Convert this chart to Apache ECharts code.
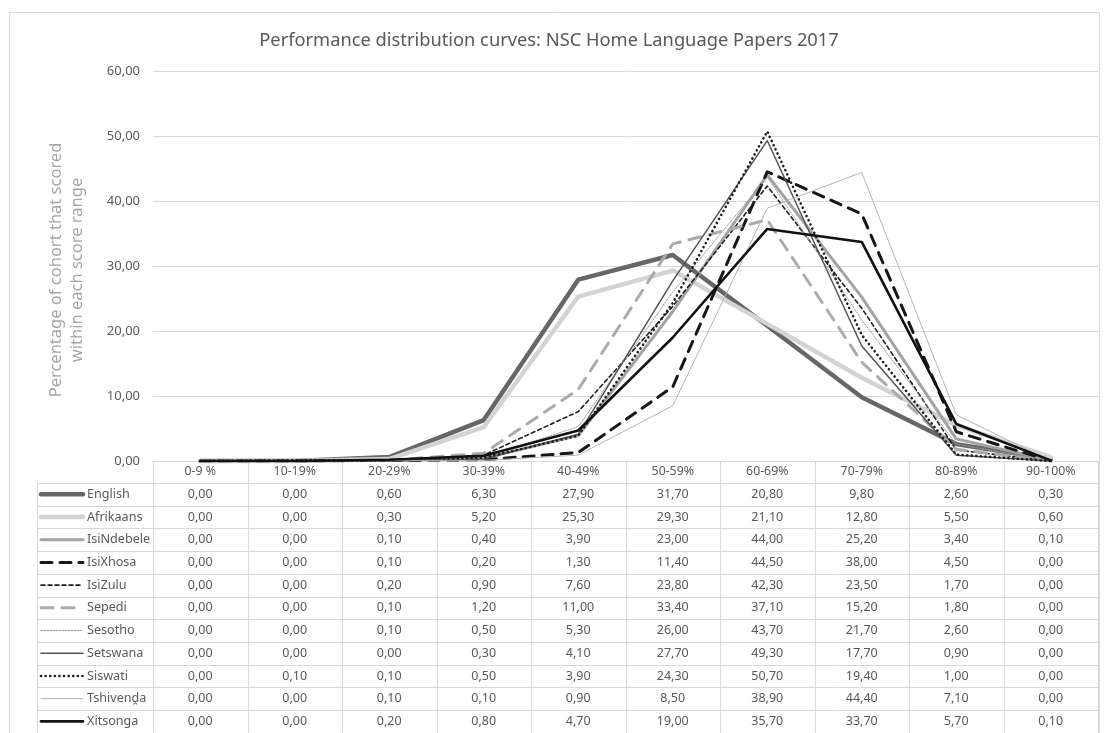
<!DOCTYPE html>
<html>
<head>
<meta charset="utf-8">
<script src="https://cdn.jsdelivr.net/npm/echarts@6/dist/echarts.min.js"></script>
<style>
html,body{margin:0;padding:0;background:#fff;}
#main{width:1104px;height:733px;}
</style>
</head>
<body>
<div id="main"></div>
<script>
// ---- data ----
const categories = ['0-9 %','10-19%','20-29%','30-39%','40-49%','50-59%','60-69%','70-79%','80-89%','90-100%'];
const yTicks = [0,10,20,30,40,50,60];
const english    = [0,0,0.6,6.3,27.9,31.7,20.8,9.8,2.6,0.3];
const afrikaans  = [0,0,0.3,5.2,25.3,29.3,21.1,12.8,5.5,0.6];
const isiNdebele = [0,0,0.1,0.4,3.9,23.0,44.0,25.2,3.4,0.1];
const isiXhosa   = [0,0,0.1,0.2,1.3,11.4,44.5,38.0,4.5,0];
const isiZulu    = [0,0,0.2,0.9,7.6,23.8,42.3,23.5,1.7,0];
const sepedi     = [0,0,0.1,1.2,11.0,33.4,37.1,15.2,1.8,0];
const sesotho    = [0,0,0.1,0.5,5.3,26.0,43.7,21.7,2.6,0];
const setswana   = [0,0,0,0.3,4.1,27.7,49.3,17.7,0.9,0];
const siswati    = [0,0.1,0.1,0.5,3.9,24.3,50.7,19.4,1.0,0];
const tshivenda  = [0,0,0.1,0.1,0.9,8.5,38.9,44.4,7.1,0];
const xitsonga   = [0,0,0.2,0.8,4.7,19.0,35.7,33.7,5.7,0.1];
const seriesNames = ['English','Afrikaans','IsiNdebele','IsiXhosa','IsiZulu','Sepedi','Sesotho','Setswana','Siswati','Tshivenḓa','Xitsonga'];
const seriesValues = [english,afrikaans,isiNdebele,isiXhosa,isiZulu,sepedi,sesotho,setswana,siswati,tshivenda,xitsonga];

// ---- styles ----
const styles = [
  {color:'#676767', width:4.5, type:'solid'},
  {color:'#d3d3d3', width:4.5, type:'solid'},
  {color:'#a3a3a3', width:3,   type:'solid'},
  {color:'#161616', width:3,   type:[11,8]},
  {color:'#222222', width:1.6, type:[4,3]},
  {color:'#ababab', width:3,   type:[12,9]},
  {color:'#9a9a9a', width:1,   type:[1.5,1.5]},
  {color:'#555555', width:1.5, type:'solid'},
  {color:'#1e1e1e', width:2.6, type:[0.1,4.5], cap:'round'},
  {color:'#b5b5b5', width:1,   type:'solid'},
  {color:'#111111', width:2.6, type:'solid'}
];

const FONT = 'Noto Sans';
const TXT = '#595959';
const BORDER = '#d9d9d9';
const fmt = v => v.toFixed(2).replace('.', ',');

const chart = echarts.init(document.getElementById('main'));

const series = seriesNames.map((n,i)=>({
  name:n, type:'line', data:seriesValues[i], symbol:'none', smooth:false,
  lineStyle:{color:styles[i].color, width:styles[i].width, type:styles[i].type, cap:styles[i].cap||'round', join:'round'},
  itemStyle:{color:styles[i].color},
  z: 2+i, animation:false
}));

chart.setOption({
  animation:false,
  backgroundColor:'#fff',
  title:{text:'Performance distribution curves: NSC Home Language Papers 2017', left:544, textAlign:'center', top:27,
    textStyle:{fontFamily:FONT, fontSize:18.3, fontWeight:'normal', color:TXT}},
  grid:{left:153, right:6, top:71, bottom:272, containLabel:false},
  xAxis:{type:'category', data:categories, boundaryGap:true,
    axisLine:{show:true, lineStyle:{color:BORDER, width:1}},
    axisTick:{show:false},
    axisLabel:{margin:4, color:TXT, fontFamily:FONT, fontSize:12.3, interval:0}},
  yAxis:{type:'value', min:yTicks[0], max:yTicks[yTicks.length-1], interval:10,
    name:'Percentage of cohort that scored\nwithin each score range', nameLocation:'middle', nameGap:65, nameRotate:90,
    nameTextStyle:{color:'#a6a6a6', fontFamily:FONT, fontSize:16.5, lineHeight:21, padding:[0,0,0,-8]},
    axisLine:{show:false}, axisTick:{show:false},
    axisLabel:{margin:13, color:TXT, fontFamily:FONT, fontSize:13, formatter:v=>fmt(v)},
    splitLine:{lineStyle:{color:BORDER, width:1}}},
  series: series
});

// ---- data table drawn with graphic elements ----
function buildTable(){
  const centers = categories.map((c,i)=>chart.convertToPixel({xAxisIndex:0}, i));
  const w = centers[1]-centers[0];
  const left = centers[0]-w/2;
  const right = centers[centers.length-1]+w/2;
  const y0 = chart.convertToPixel({yAxisIndex:0}, 0);
  const headerBottom = y0 + 22;
  const rowH = 22.7;
  const tableLeft = 37;
  const els = [];
  els.push({type:'rect', shape:{x:9.5,y:12.5,width:1090,height:740}, style:{fill:null, stroke:BORDER, lineWidth:1}, silent:true, z:0});
  for(let i=0;i<=categories.length;i++){
    const x = Math.round(left + i*w)+0.5;
    els.push({type:'line', shape:{x1:x,y1:y0,x2:x,y2:headerBottom+rowH*seriesNames.length}, style:{stroke:BORDER,lineWidth:1}, silent:true});
  }
  els.push({type:'line', shape:{x1:tableLeft+0.5,y1:headerBottom,x2:tableLeft+0.5,y2:headerBottom+rowH*seriesNames.length}, style:{stroke:BORDER,lineWidth:1}, silent:true});
  for(let r=0;r<=seriesNames.length;r++){
    const y = Math.round(headerBottom + r*rowH)+0.5;
    els.push({type:'line', shape:{x1:tableLeft,y1:y,x2:right,y2:y}, style:{stroke:BORDER,lineWidth:1}, silent:true});
  }
  seriesNames.forEach((n,r)=>{
    const cy = headerBottom + r*rowH + rowH/2;
    const st = styles[r];
    let dash = null;
    if(Array.isArray(st.type)) dash = st.type;
    els.push({type:'line', shape:{x1:41,y1:cy,x2:83,y2:cy},
      style:{stroke:st.color, lineWidth:st.width, lineDash:dash, lineCap:st.cap||'round'}, silent:true, z:5});
    els.push({type:'text', x:87, y:cy, style:{text:n, fill:TXT, font:'12.6px "'+FONT+'"', textAlign:'left', textVerticalAlign:'middle'}, silent:true, z:5});
    seriesValues[r].forEach((v,i)=>{
      els.push({type:'text', x:centers[i], y:cy, style:{text:fmt(v), fill:TXT, font:'12.5px "'+FONT+'"', textAlign:'center', textVerticalAlign:'middle'}, silent:true, z:5});
    });
  });
  chart.setOption({graphic:{elements:els}});
}
buildTable();
</script>
</body>
</html>
